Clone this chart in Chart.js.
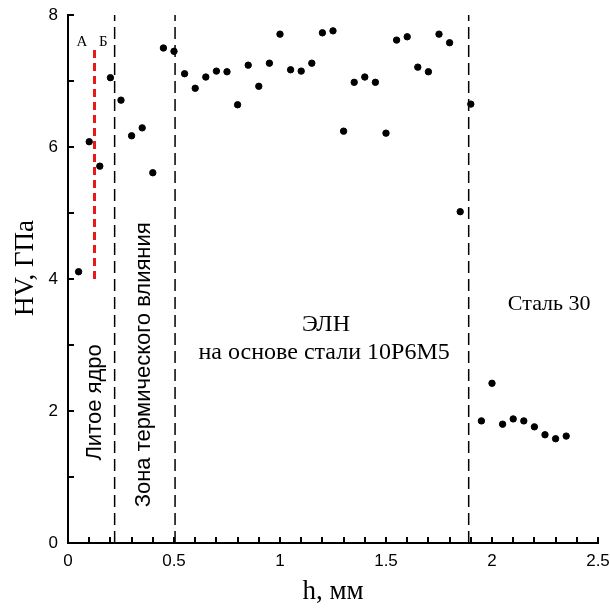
<!DOCTYPE html>
<html>
<head>
<meta charset="utf-8">
<script src="https://cdn.jsdelivr.net/npm/chart.js@4"></script>
<style>
html, body { margin: 0; padding: 0; background: #fff; }
</style>
</head>
<body>
<canvas id="myChart" width="610" height="610"></canvas>
<script>
// distance from surface, mm
var depth = [0.05, 0.10, 0.15, 0.20, 0.25, 0.30, 0.35, 0.40, 0.45, 0.50,
             0.55, 0.60, 0.65, 0.70, 0.75, 0.80, 0.85, 0.90, 0.95, 1.00,
             1.05, 1.10, 1.15, 1.20, 1.25, 1.30, 1.35, 1.40, 1.45, 1.50,
             1.55, 1.60, 1.65, 1.70, 1.75, 1.80, 1.85, 1.90, 1.95, 2.00,
             2.05, 2.10, 2.15, 2.20, 2.25, 2.30, 2.35];
// microhardness HV, GPa
var hardness = [4.11, 6.08, 5.71, 7.05, 6.71, 6.17, 6.29, 5.61, 7.50, 7.45,
                7.11, 6.89, 7.06, 7.15, 7.14, 6.64, 7.24, 6.92, 7.27, 7.71,
                7.17, 7.15, 7.27, 7.73, 7.76, 6.24, 6.98, 7.06, 6.98, 6.21,
                7.62, 7.67, 7.21, 7.14, 7.71, 7.58, 5.02, 6.65, 1.85, 2.42,
                1.80, 1.88, 1.85, 1.76, 1.64, 1.58, 1.62];
// zone borders (black dashed lines)
var zoneBorders = [0.22, 0.505, 1.89];
// A-B line in the cast core (red)
var abLineX = 0.125;
var abLineY = [4.0, 7.5];

var points = depth.map(function(h, i) { return {x: h, y: hardness[i]}; });

var datasets = [{
  data: points,
  backgroundColor: '#000',
  borderColor: '#000',
  pointRadius: 3.2,
  showLine: false
}];
zoneBorders.forEach(function(b) {
  datasets.push({
    data: [{x: b, y: 0}, {x: b, y: 8}],
    showLine: true,
    borderColor: '#000',
    borderWidth: 1.5,
    borderDash: [12, 6],
    pointRadius: 0
  });
});
datasets.push({
  data: [{x: abLineX, y: abLineY[0]}, {x: abLineX, y: abLineY[1]}],
  showLine: true,
  borderColor: '#e8191a',
  borderWidth: 3,
  borderDash: [8, 5],
  pointRadius: 0
});

var serif = '"Liberation Serif", "Times New Roman", serif';
var sans = '"Liberation Sans", Arial, sans-serif';

var decor = {
  id: 'decor',
  afterDraw: function(chart) {
    var ctx = chart.ctx;
    var xs = chart.scales.x, ys = chart.scales.y;
    var area = chart.chartArea;
    ctx.save();
    ctx.strokeStyle = '#000';
    ctx.lineWidth = 2;
    // inward ticks
    xs.ticks.forEach(function(t) {
      var px = Math.round(xs.getPixelForValue(t.value));
      ctx.beginPath();
      ctx.moveTo(px, area.bottom);
      ctx.lineTo(px, area.bottom - 6);
      ctx.stroke();
    });
    ys.ticks.forEach(function(t) {
      var py = Math.round(ys.getPixelForValue(t.value));
      ctx.beginPath();
      ctx.moveTo(area.left, py);
      ctx.lineTo(area.left + 6, py);
      ctx.stroke();
    });

    ctx.fillStyle = '#000';
    ctx.textBaseline = 'middle';
    ctx.textAlign = 'center';
    ctx.font = '15px ' + serif;
    ctx.fillText('А', xs.getPixelForValue(0.066), ys.getPixelForValue(7.59));
    ctx.fillText('Б', xs.getPixelForValue(0.167), ys.getPixelForValue(7.59));

    ctx.font = '24px ' + serif;
    ctx.fillText('ЭЛН', xs.getPixelForValue(1.217), ys.getPixelForValue(3.30));
    ctx.fillText('на основе стали 10Р6М5', xs.getPixelForValue(1.208), ys.getPixelForValue(2.89));
    ctx.font = '22px ' + serif;
    ctx.fillText('Сталь 30', xs.getPixelForValue(2.27), ys.getPixelForValue(3.62));

    // rotated zone labels
    ctx.font = '22px ' + sans;
    ctx.save();
    ctx.translate(xs.getPixelForValue(0.125), ys.getPixelForValue(2.13));
    ctx.rotate(-Math.PI / 2);
    ctx.fillText('Литое ядро', 0, 0);
    ctx.restore();
    ctx.save();
    ctx.translate(xs.getPixelForValue(0.36), ys.getPixelForValue(2.70));
    ctx.rotate(-Math.PI / 2);
    ctx.fillText('Зона термического влияния', 0, 0);
    ctx.restore();

    // axis titles
    ctx.font = '27px ' + serif;
    ctx.fillText('h, мм', 333, 592);
    ctx.save();
    ctx.translate(26, 268);
    ctx.rotate(-Math.PI / 2);
    ctx.fillText('HV, ГПа', 0, 0);
    ctx.restore();
    ctx.restore();
  }
};

var chart = new Chart(document.getElementById('myChart').getContext('2d'), {
  type: 'scatter',
  data: { datasets: datasets },
  options: {
    responsive: false,
    animation: false,
    layout: { padding: { left: 0, top: 15, right: 12, bottom: 0 } },
    plugins: { legend: { display: false }, tooltip: { enabled: false } },
    scales: {
      x: {
        type: 'linear',
        min: 0, max: 2.5,
        grid: { display: false, drawTicks: false },
        border: { display: true, color: '#000', width: 2 },
        afterFit: function(s) { s.height = 67; s.paddingLeft = 0; s.paddingRight = 0; },
        ticks: {
          stepSize: 0.1,
          autoSkip: false,
          maxRotation: 0,
          padding: 8,
          color: '#000',
          font: { family: sans, size: 17 },
          callback: function(v) {
            var d = v * 2;
            if (Math.abs(d - Math.round(d)) > 1e-6) return '';
            return String(Math.round(d) / 2);
          }
        }
      },
      y: {
        type: 'linear',
        min: 0, max: 8,
        grid: { display: false, drawTicks: false },
        border: { display: true, color: '#000', width: 2 },
        afterFit: function(s) { s.width = 68; s.paddingTop = 0; s.paddingBottom = 0; },
        ticks: {
          stepSize: 1,
          autoSkip: false,
          padding: 10,
          color: '#000',
          font: { family: sans, size: 17 },
          callback: function(v) { return v % 2 === 0 ? String(v) : ''; }
        }
      }
    }
  },
  plugins: [decor]
});
</script>
</body>
</html>
